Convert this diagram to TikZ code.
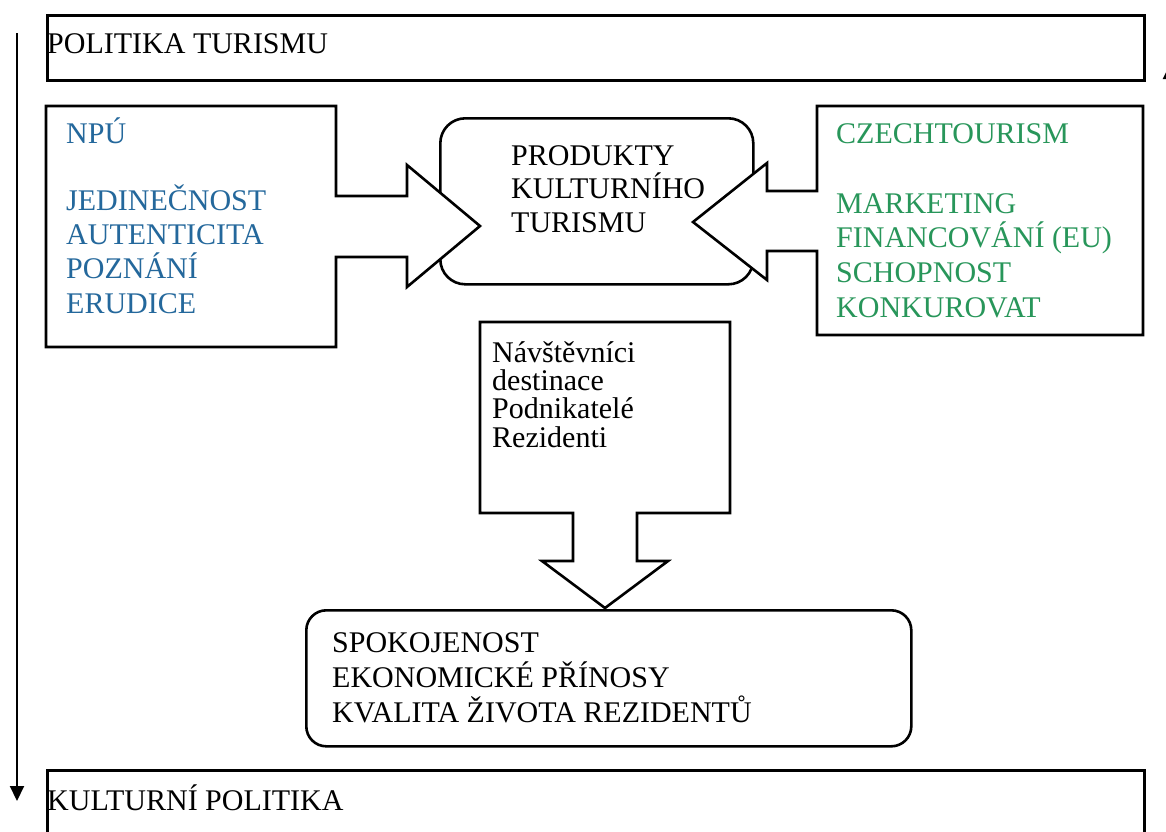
\documentclass[tikz,border=0pt]{standalone}
\usepackage{fontspec}
\setmainfont{Liberation Serif}
\usetikzlibrary{arrows.meta}

\definecolor{npublue}{RGB}{36,104,156}
\definecolor{czgreen}{RGB}{40,150,90}
\newcommand{\firstline}{\rule{0pt}{28pt}}

\begin{document}
\begin{tikzpicture}[x=1pt,y=-1pt,
		box/.style={draw,line width=2.6pt,fill=white},
		lbl/.style={inner sep=0pt,anchor=north west,align=left},
		flow/.style={line width=2pt,-{Triangle[length=15pt,width=14pt]}}]

				\useasboundingbox (0,0) rectangle (1166,831);
				\clip (0,0) rectangle (1166,831);

				% frames
				\node[box,anchor=north west,minimum width=1097pt,minimum height=65pt] (politika) at (46,14) {};
				\node[box,anchor=north west,minimum width=1097pt,minimum height=100pt] (kultura) at (46,769) {};

				\node[box,rounded corners=25pt,anchor=north west,minimum width=313pt,minimum height=166pt] (produkty) at (439,117) {};

				% block arrows
				\draw[box] (46,106) -- (336,106) -- (336,196) -- (407,196) -- (407,165) -- (480,226)
					-- (407,287) -- (407,257) -- (336,257) -- (336,347) -- (46,347) -- cycle;
				\draw[box] (1143,106) -- (817,106) -- (817,191) -- (767,191) -- (767,163) -- (693,222)
					-- (767,280) -- (767,251) -- (817,251) -- (817,335) -- (1143,335) -- cycle;
				\draw[box] (480,322) -- (730,322) -- (730,513) -- (637,513) -- (637,561) -- (668,561)
					-- (605,608) -- (542,561) -- (573,561) -- (573,513) -- (480,513) -- cycle;

				\node[box,rounded corners=20pt,anchor=north west,minimum width=605pt,minimum height=136pt] (prinosy) at (305,609) {};

				% texts
				\node[lbl,font=\fontsize{30}{33.5}\selectfont] (politika-txt) at (47,25) {\firstline POLITIKA TURISMU};
				\node[lbl,font=\fontsize{30}{33.5}\selectfont] (kultura-txt) at (47,782) {\firstline KULTURNÍ POLITIKA};

				\node[lbl,font=\fontsize{30}{34.3}\selectfont,text=npublue] (npu) at (66,115) {\firstline NPÚ};
				\node[lbl,font=\fontsize{30}{34.3}\selectfont,text=npublue] (npu-list) at (66,182)
					{\firstline JEDINEČNOST\\AUTENTICITA\\POZNÁNÍ\\ERUDICE};

				\node[lbl,font=\fontsize{30}{34.7}\selectfont,text=czgreen] (czt) at (836,115) {\firstline CZECHTOURISM};
				\node[lbl,font=\fontsize{30}{34.7}\selectfont,text=czgreen] (czt-list) at (836,185)
					{\firstline MARKETING\\FINANCOVÁNÍ (EU)\\SCHOPNOST\\KONKUROVAT};

				\node[lbl,font=\fontsize{30}{33.5}\selectfont] (produkty-txt) at (511,137)
					{\firstline PRODUKTY\\KULTURNÍHO\\TURISMU};

				\node[lbl,font=\fontsize{30}{28.3}\selectfont] (aktori) at (492,334)
					{\firstline Návštěvníci\\destinace\\Podnikatelé\\Rezidenti};

				\node[lbl,font=\fontsize{30}{35}\selectfont] (prinosy-txt) at (332,624)
					{\firstline SPOKOJENOST\\EKONOMICKÉ PŘÍNOSY\\KVALITA ŽIVOTA REZIDENTŮ};

				% side arrows
				\coordinate (l-top) at (17,33);
				\coordinate (l-bot) at (17,801);
				\coordinate (r-bot) at (1170,800);
				\coordinate (r-top) at (1170,64);

				\draw[flow] (l-top) -- (l-bot);
				\draw[flow] (r-bot) -- (r-top);

			\end{tikzpicture}
\end{document}
